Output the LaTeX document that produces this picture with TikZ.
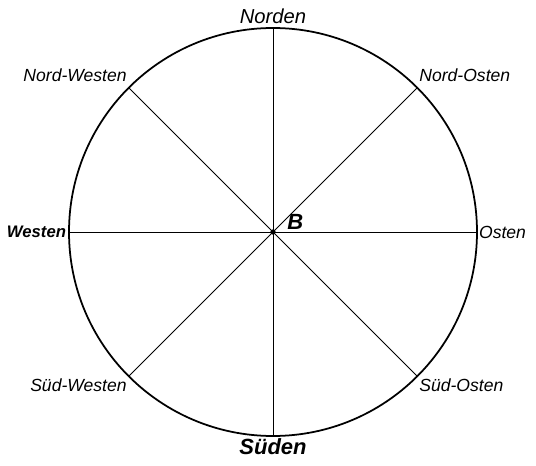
\documentclass[tikz,border=0pt]{standalone}
\usepackage{fontspec}
\setmainfont{Liberation Sans}
\usetikzlibrary{positioning,calc}

\begin{document}
\begin{tikzpicture}[
  font=\itshape,
  rim/.style={line width=1pt},
  ray/.style={line width=0.55pt},
  mainlabel/.style={font=\fontsize{11.5}{13}\selectfont\itshape, inner sep=1pt},
  sidelabel/.style={font=\fontsize{10}{12}\selectfont\itshape, inner sep=1pt},
  boldlabel/.style={font=\fontsize{9.5}{12}\selectfont\bfseries\itshape, inner sep=1.5pt},
]
\useasboundingbox (-5.46,-4.66) rectangle (5.26,4.64);

% Centre and points on the circle
\coordinate (B) at (0,0);
\coordinate (n) at (90:4.08);
\coordinate (s) at (270:4.08);
\coordinate (w) at (180:4.08);
\coordinate (o) at (0:4.08);
\coordinate (nw) at (135:4.08);
\coordinate (no) at (45:4.08);
\coordinate (sw) at (225:4.08);
\coordinate (so) at (315:4.08);

% Circle and diameters
\draw[rim] (B) circle (4.08);
\draw[ray] (n) -- (s);
\draw[ray] (w) -- (o);
\draw[ray] (nw) -- (so);
\draw[ray] (no) -- (sw);
\fill (B) circle (1.5pt);

% Compass labels
\node[mainlabel, anchor=south] (norden) at ($(n)+(0,0.05)$) {Norden};
\node[boldlabel, font=\fontsize{12.5}{14}\selectfont\bfseries\itshape, anchor=north] (sueden) at (s) {Süden};
\node[boldlabel, anchor=east] (westen) at (w) {Westen};
\node[sidelabel, anchor=west] (osten) at (o) {Osten};
\node[sidelabel, anchor=south east] (nordwesten) at ($(nw)+(0,0.08)$) {Nord-Westen};
\node[sidelabel, anchor=south west] (nordosten) at ($(no)+(0,0.08)$) {Nord-Osten};
\node[sidelabel, anchor=north east] (suedwesten) at (sw) {Süd-Westen};
\node[sidelabel, anchor=north west] (suedosten) at (so) {Süd-Osten};
\node[font=\fontsize{12.5}{14}\selectfont\bfseries\itshape, anchor=south west, inner sep=0pt] (b) at (0.28,0.05) {B};

\end{tikzpicture}
\end{document}
